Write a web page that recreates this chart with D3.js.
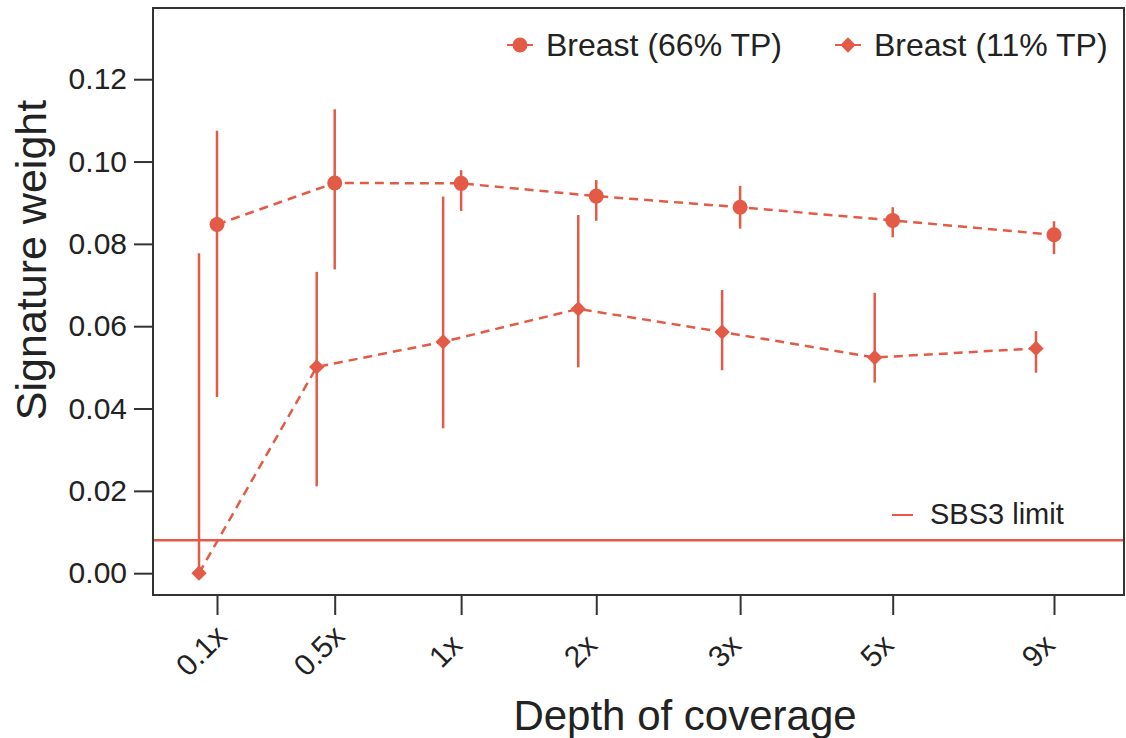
<!DOCTYPE html>
<html>
<head>
<meta charset="utf-8">
<script src="https://cdn.jsdelivr.net/npm/d3@7"></script>
<style>
  body { margin: 0; background: #fff; }
  text { font-family: "Liberation Sans", Arial, sans-serif; fill: #222; }
</style>
</head>
<body>
<div id="chart"></div>
<script>
// chart values
var depths = ['0.1x', '0.5x', '1x', '2x', '3x', '5x', '9x'];
var tp66 = [0.0847, 0.0948, 0.0947, 0.0916, 0.0889, 0.0857, 0.0822];
var tp66Lo = [0.0428, 0.0738, 0.0880, 0.0856, 0.0837, 0.0816, 0.0775];
var tp66Hi = [0.1075, 0.1127, 0.0979, 0.0955, 0.0941, 0.0889, 0.0855];
var tp11 = [0.0000, 0.0501, 0.0562, 0.0642, 0.0586, 0.0524, 0.0546];
var tp11Lo = [0.0000, 0.0211, 0.0352, 0.0500, 0.0493, 0.0463, 0.0487];
var tp11Hi = [0.0777, 0.0732, 0.0915, 0.0870, 0.0688, 0.0681, 0.0588];
var sbs3Limit = 0.008;
var yTicks = [0, 0.02, 0.04, 0.06, 0.08, 0.10, 0.12];
var seriesNames = ['Breast (66% TP)', 'Breast (11% TP)'];

var red = '#e35a46';
var W = 1126, H = 738;
var frame = {left: 153, right: 1124, top: 8, bottom: 595};

var svg = d3.select('#chart').append('svg')
  .attr('width', W).attr('height', H);

// x: spacing of depth positions grows with rank (square of rank + offset)
var xOffset = 13;
var x = d3.scalePow().exponent(2)
  .domain([xOffset, xOffset + depths.length - 1])
  .range([217, 1054]);
var xPos = function(i) { return x(i + xOffset); };
var dodge = -18; // 11% TP series is shifted left of the tick

var y = d3.scaleLinear().domain([-0.0053, 0.1373]).range([frame.bottom, frame.top]);

// sbs3 limit line
svg.append('line')
  .attr('x1', frame.left).attr('x2', frame.right)
  .attr('y1', y(sbs3Limit)).attr('y2', y(sbs3Limit))
  .attr('stroke', red).attr('stroke-width', 2.5);

// series data
var s66 = depths.map(function(d, i) { return {i: i, v: tp66[i], lo: tp66Lo[i], hi: tp66Hi[i], dx: 0}; });
var s11 = depths.map(function(d, i) { return {i: i, v: tp11[i], lo: tp11Lo[i], hi: tp11Hi[i], dx: dodge}; });

var line = d3.line()
  .x(function(d) { return xPos(d.i) + d.dx; })
  .y(function(d) { return y(d.v); });

[s66, s11].forEach(function(s) {
  svg.append('path')
    .datum(s)
    .attr('d', line)
    .attr('fill', 'none')
    .attr('stroke', red)
    .attr('stroke-width', 2.5)
    .attr('stroke-dasharray', '9,6');

  svg.selectAll(null)
    .data(s)
    .enter().append('line')
    .attr('x1', function(d) { return xPos(d.i) + d.dx; })
    .attr('x2', function(d) { return xPos(d.i) + d.dx; })
    .attr('y1', function(d) { return y(d.lo); })
    .attr('y2', function(d) { return y(d.hi); })
    .attr('stroke', red)
    .attr('stroke-width', 2.5);
});

svg.selectAll(null)
  .data(s66)
  .enter().append('circle')
  .attr('cx', function(d) { return xPos(d.i) + d.dx; })
  .attr('cy', function(d) { return y(d.v); })
  .attr('r', 7.5)
  .attr('fill', red);

var diamond = d3.symbol().type(d3.symbolDiamond2).size(150);
svg.selectAll(null)
  .data(s11)
  .enter().append('path')
  .attr('d', diamond)
  .attr('transform', function(d) { return 'translate(' + (xPos(d.i) + d.dx) + ',' + y(d.v) + ')'; })
  .attr('fill', red);

// frame
svg.append('rect')
  .attr('x', frame.left).attr('y', frame.top)
  .attr('width', frame.right - frame.left)
  .attr('height', frame.bottom - frame.top)
  .attr('fill', 'none')
  .attr('stroke', '#333')
  .attr('stroke-width', 2);

// y axis
var yAxis = svg.append('g')
  .attr('transform', 'translate(' + (frame.left - 1) + ',0)')
  .call(d3.axisLeft(y).tickValues(yTicks).tickFormat(d3.format('.2f')).tickSize(18).tickPadding(7));
yAxis.select('.domain').remove();
yAxis.selectAll('.tick line').attr('stroke', '#333').attr('stroke-width', 2);
yAxis.selectAll('.tick text')
  .style('font-family', '"Liberation Sans", Arial, sans-serif')
  .style('font-size', '30px').attr('fill', '#222');

// x axis
var xAxis = svg.append('g')
  .attr('transform', 'translate(0,' + (frame.bottom + 1) + ')')
  .call(d3.axisBottom(x)
    .tickValues(depths.map(function(d, i) { return i + xOffset; }))
    .tickFormat(function(v) { return depths[v - xOffset]; })
    .tickSize(19));
xAxis.select('.domain').remove();
xAxis.selectAll('.tick line').attr('stroke', '#333').attr('stroke-width', 2);
xAxis.selectAll('.tick text')
  .style('font-family', '"Liberation Sans", Arial, sans-serif')
  .style('font-size', '30px').attr('fill', '#222')
  .attr('text-anchor', 'middle')
  .attr('dy', null)
  .attr('y', null)
  .attr('transform', 'translate(-9,62) rotate(-45)');

// axis titles
svg.append('text')
  .attr('transform', 'translate(46,' + 260 + ') rotate(-90)')
  .attr('text-anchor', 'middle')
  .style('font-size', '43px')
  .text('Signature weight');

svg.append('text')
  .attr('x', 685).attr('y', 730)
  .attr('text-anchor', 'middle')
  .style('font-size', '42px')
  .text('Depth of coverage');

// legend (top)
var legend = svg.append('g');
var legItems = [
  {name: seriesNames[0], x: 520, shape: 'circle'},
  {name: seriesNames[1], x: 848, shape: 'diamond'}
];
legItems.forEach(function(d) {
  var g = legend.append('g').attr('transform', 'translate(' + d.x + ',45)');
  g.append('line').attr('x1', -13).attr('x2', 13)
    .attr('stroke', red).attr('stroke-width', 2);
  if (d.shape === 'circle') {
    g.append('circle').attr('r', 7.5).attr('fill', red);
  } else {
    g.append('path').attr('d', diamond).attr('fill', red);
  }
  g.append('text').attr('x', 26).attr('y', 11)
    .style('font-size', '32px')
    .text(d.name);
});

// SBS3 legend
var lg = svg.append('g').attr('transform', 'translate(902,515)');
lg.append('line').attr('x1', -10).attr('x2', 11)
  .attr('stroke', red).attr('stroke-width', 2);
lg.append('text').attr('x', 28).attr('y', 9)
  .style('font-size', '29px')
  .text('SBS3 limit');
</script>
</body>
</html>
